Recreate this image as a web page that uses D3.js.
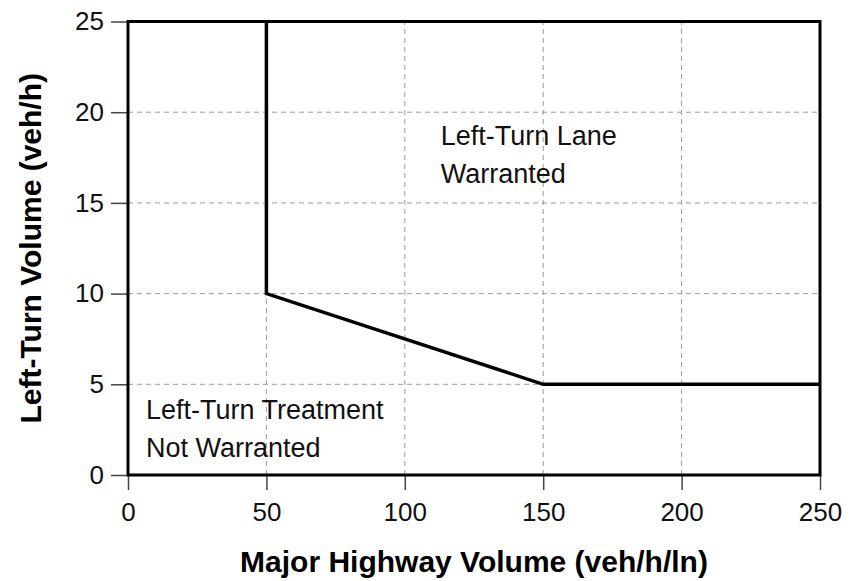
<!DOCTYPE html>
<html>
<head>
<meta charset="utf-8">
<script src="https://cdn.jsdelivr.net/npm/d3@7"></script>
<style>
  html, body { margin: 0; padding: 0; background: #fff; }
  svg { display: block; }
  text { font-family: "Liberation Sans", Arial, Helvetica, sans-serif; }
</style>
</head>
<body>
<svg id="chart" width="851" height="581"></svg>
<script>
// Axis ranges and ticks
const xDomain = [0, 250];
const yDomain = [0, 25];
const xTicks = [0, 50, 100, 150, 200, 250];
const yTicks = [0, 5, 10, 15, 20, 25];
const xGrid = [50, 100, 150, 200];
const yGrid = [5, 10, 15, 20];

// Warrant boundary: major highway volume vs. left-turn volume
const boundaryX = [50, 50, 150, 250];
const boundaryY = [25, 10, 5, 5];

// Region labels (anchored at the first line's baseline, in data units)
const regionLabels = [
  { lines: ["Left-Turn Lane", "Warranted"], x: 113, y: 18.2 },
  { lines: ["Left-Turn Treatment", "Not Warranted"], x: 6.5, y: 3.1 }
];

const xTitle = "Major Highway Volume (veh/h/ln)";
const yTitle = "Left-Turn Volume (veh/h)";

const svg = d3.select("#chart");
const margin = { left: 128, right: 31, top: 21.5, bottom: 106 };
const W = 851, H = 581;

const x = d3.scaleLinear().domain(xDomain).range([margin.left, W - margin.right]);
const y = d3.scaleLinear().domain(yDomain).range([H - margin.bottom, margin.top]);

// Dashed grid
const grid = svg.append("g").attr("stroke", "#9a9a9a").attr("stroke-width", 1)
  .attr("stroke-dasharray", "5,4");
grid.selectAll("line.gx").data(xGrid).join("line")
  .attr("x1", d => x(d)).attr("x2", d => x(d))
  .attr("y1", y(yDomain[0])).attr("y2", y(yDomain[1]));
grid.selectAll("line.gy").data(yGrid).join("line")
  .attr("y1", d => y(d)).attr("y2", d => y(d))
  .attr("x1", x(xDomain[0])).attr("x2", x(xDomain[1]));

// Axes
const xAxis = svg.append("g")
  .attr("transform", `translate(0,${y(0)})`)
  .call(d3.axisBottom(x).tickValues(xTicks).tickSize(15).tickPadding(13).tickFormat(d3.format("d")));
const yAxis = svg.append("g")
  .attr("transform", `translate(${x(0)},0)`)
  .call(d3.axisLeft(y).tickValues(yTicks).tickSize(17).tickPadding(7).tickFormat(d3.format("d")));
[xAxis, yAxis].forEach(a => {
  a.select(".domain").remove();
  a.selectAll(".tick line").attr("stroke", "#444").attr("stroke-width", 1.5);
  a.selectAll(".tick text").attr("fill", "#111").style("font-size", "26px")
    .style("font-family", '"Liberation Sans", Arial, sans-serif');
});

// Frame
svg.append("rect")
  .attr("x", x(0)).attr("y", y(25))
  .attr("width", x(250) - x(0)).attr("height", y(0) - y(25))
  .attr("fill", "none").attr("stroke", "#000").attr("stroke-width", 3);

// Boundary line
const pts = boundaryX.map((d, i) => [d, boundaryY[i]]);
svg.append("path")
  .datum(pts)
  .attr("d", d3.line().x(d => x(d[0])).y(d => y(d[1])))
  .attr("fill", "none").attr("stroke", "#000").attr("stroke-width", 3.5)
  .attr("stroke-linejoin", "miter");

// Region labels
regionLabels.forEach(r => {
  const t = svg.append("text")
    .attr("x", x(r.x)).attr("y", y(r.y))
    .attr("fill", "#111").style("font-size", "27px");
  r.lines.forEach((s, i) => {
    t.append("tspan").attr("x", x(r.x)).attr("dy", i === 0 ? 0 : 38).text(s);
  });
});

// Axis titles
svg.append("text")
  .attr("x", (x(0) + x(250)) / 2).attr("y", 572)
  .attr("text-anchor", "middle")
  .style("font-size", "30px").style("font-weight", "bold").attr("fill", "#000")
  .text(xTitle);
svg.append("text")
  .attr("transform", `translate(41,${(y(0) + y(25)) / 2}) rotate(-90)`)
  .attr("text-anchor", "middle")
  .style("font-size", "30px").style("font-weight", "bold").attr("fill", "#000")
  .text(yTitle);
</script>
</body>
</html>
